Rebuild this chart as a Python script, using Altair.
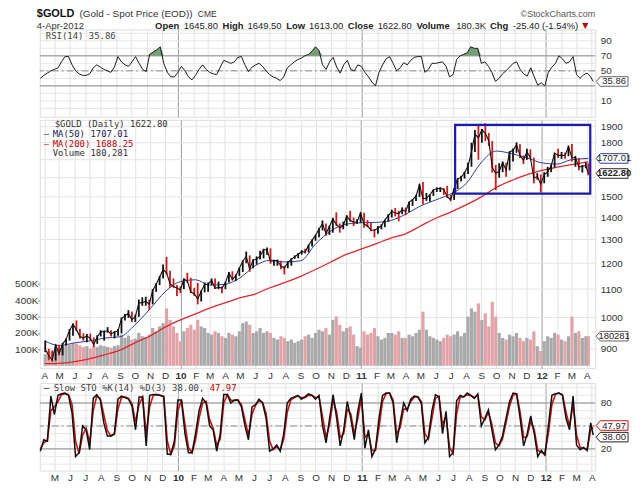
import altair as alt
import pandas as pd

# ---------------- data (weekly samples) ----------------
close = [897, 880, 866, 911, 885, 915, 929, 957, 978, 959, 938, 933, 940, 931, 913, 937, 952, 954, 956, 946,
         952, 955, 996, 1006, 1014, 992, 1003, 1050, 1051, 1056, 1045, 1095, 1118, 1145, 1175, 1162, 1120, 1110, 1104, 1097,
         1138, 1131, 1089, 1083, 1064, 1092, 1117, 1118, 1133, 1103, 1107, 1104, 1125, 1162, 1136, 1151, 1180, 1208, 1228, 1177,
         1213, 1217, 1229, 1256, 1256, 1208, 1210, 1211, 1189, 1181, 1203, 1216, 1227, 1237, 1248, 1246, 1275, 1297, 1318, 1346,
         1371, 1326, 1358, 1393, 1367, 1352, 1362, 1406, 1385, 1378, 1380, 1421,
         1369, 1360, 1342, 1341, 1350, 1361, 1388, 1408, 1429, 1421, 1418, 1437, 1428, 1474, 1486, 1504, 1563, 1491, 1493, 1511,
         1536, 1542, 1543, 1539, 1501, 1486, 1542, 1594, 1601, 1628, 1663, 1745, 1852, 1829, 1880, 1858, 1812, 1656, 1624, 1635,
         1683, 1642, 1745, 1755, 1788, 1725, 1696, 1746, 1711, 1598, 1606, 1566,
         1617, 1631, 1665, 1738, 1725, 1725, 1724, 1776, 1711, 1711, 1659, 1662, 1668, 1622.8]
high = [925, 900, 895, 913, 912, 918, 932, 962, 980, 990, 962, 948, 946, 947, 935, 942, 958, 957, 968, 958,
        955, 962, 1000, 1012, 1025, 1020, 1010, 1062, 1070, 1072, 1062, 1100, 1122, 1150, 1195, 1226, 1170, 1140, 1115, 1110,
        1140, 1162, 1143, 1105, 1123, 1095, 1125, 1125, 1140, 1140, 1128, 1110, 1128, 1165, 1168, 1156, 1182, 1212, 1248, 1232,
        1215, 1228, 1252, 1260, 1265, 1262, 1214, 1215, 1210, 1190, 1208, 1220, 1232, 1242, 1254, 1260, 1278, 1300, 1320, 1350,
        1386, 1372, 1362, 1398, 1424, 1372, 1380, 1410, 1432, 1400, 1392, 1424,
        1422, 1388, 1375, 1346, 1360, 1368, 1390, 1416, 1437, 1445, 1432, 1448, 1447, 1476, 1488, 1510, 1565, 1577, 1520, 1512,
        1538, 1549, 1550, 1545, 1557, 1510, 1545, 1598, 1610, 1632, 1682, 1800, 1878, 1912, 1885, 1921, 1860, 1810, 1670, 1680,
        1690, 1682, 1748, 1765, 1802, 1790, 1725, 1764, 1760, 1712, 1625, 1618,
        1630, 1660, 1672, 1740, 1764, 1745, 1740, 1782, 1792, 1722, 1710, 1670, 1685, 1680]
low = [890, 866, 862, 865, 880, 880, 910, 925, 940, 955, 932, 925, 920, 925, 905, 915, 938, 925, 950, 938,
       932, 940, 948, 990, 998, 985, 985, 1002, 1040, 1040, 1025, 1045, 1090, 1115, 1140, 1155, 1105, 1105, 1075, 1085,
       1100, 1123, 1085, 1075, 1045, 1055, 1088, 1090, 1115, 1100, 1100, 1085, 1100, 1125, 1132, 1130, 1150, 1165, 1200, 1166,
       1180, 1195, 1215, 1220, 1235, 1198, 1190, 1190, 1176, 1156, 1180, 1190, 1218, 1220, 1235, 1240, 1244, 1270, 1294, 1310,
       1340, 1316, 1320, 1330, 1360, 1330, 1345, 1360, 1380, 1360, 1370, 1375,
       1352, 1355, 1336, 1309, 1325, 1345, 1355, 1380, 1400, 1405, 1382, 1415, 1410, 1426, 1455, 1480, 1500, 1462, 1480, 1476,
       1505, 1525, 1525, 1510, 1495, 1478, 1485, 1540, 1580, 1595, 1620, 1660, 1745, 1700, 1800, 1810, 1780, 1627, 1535, 1600,
       1630, 1605, 1640, 1690, 1740, 1710, 1675, 1700, 1705, 1570, 1590, 1523,
       1570, 1605, 1630, 1655, 1710, 1705, 1705, 1720, 1690, 1660, 1640, 1628, 1652, 1613]
volume_k = [70, 90, 85, 100, 110, 120, 125, 130, 140, 135, 125, 115, 120, 105, 120, 115, 125, 120, 115, 110,
            120, 125, 190, 170, 185, 160, 165, 200, 180, 175, 190, 230, 210, 240, 260, 350, 280, 240, 200, 150,
            210, 230, 250, 220, 280, 240, 230, 200, 190, 210, 200, 180, 170, 200, 190, 180, 210, 260, 270, 250,
            200, 210, 230, 200, 210, 200, 170, 160, 180, 170, 150, 160, 140, 150, 160, 180, 190, 170, 200, 220,
            210, 230, 190, 280, 300, 250, 210, 230, 240, 190, 120, 110,
            210, 190, 200, 230, 180, 160, 170, 200, 200, 190, 210, 170, 170, 190, 180, 200, 220, 330, 220, 180,
            170, 160, 150, 170, 190, 180, 190, 210, 180, 200, 300, 350, 330, 380, 280, 320, 240, 390, 300, 200,
            170, 160, 190, 180, 200, 170, 150, 170, 160, 210, 120, 90,
            150, 180, 170, 200, 190, 160, 150, 180, 300, 200, 210, 170, 180, 180.281]
rsi = [40, 44, 47, 50, 52, 54, 62, 69, 69, 58, 50, 46, 44, 44, 46, 54, 58, 55, 52, 50,
       48, 55, 69, 62, 58, 56, 62, 69, 60, 52, 49, 72, 75, 78, 82, 60, 48, 42, 42, 48,
       56, 50, 42, 38, 44, 52, 58, 52, 48, 46, 45, 55, 64, 62, 60, 62, 68, 69, 58, 49,
       55, 58, 60, 56, 50, 45, 42, 40, 37, 42, 54, 58, 62, 65, 67, 70, 72, 76, 82, 77,
       58, 52, 62, 68, 55, 47, 58, 64, 52, 50, 58, 56,
       48, 42, 35, 30, 48, 58, 66, 69, 60, 50, 54, 61, 58, 64, 68, 69, 69, 48, 52, 60,
       60, 61, 62, 56, 42, 45, 65, 70, 72, 74, 82, 80, 80, 60, 62, 56, 48, 36, 40, 46,
       50, 55, 60, 62, 52, 46, 43, 54, 42, 31, 34, 30,
       48, 55, 60, 70, 66, 60, 62, 69, 45, 40, 45, 47, 42, 35.86]
sto_k = [17, 32, 30, 89, 65, 90, 92, 93, 90, 67, 10, 15, 50, 45, 19, 86, 91, 84, 54, 37,
         37, 40, 85, 89, 87, 85, 76, 45, 88, 88, 24, 90, 91, 91, 90, 88, 13, 13, 30, 84,
         84, 40, 15, 15, 40, 70, 86, 80, 50, 45, 17, 40, 91, 91, 80, 84, 84, 75, 50, 32,
         75, 78, 85, 80, 60, 17, 20, 25, 17, 40, 80, 86, 88, 90, 85, 88, 92, 90, 85, 90,
         50, 28, 60, 91, 60, 24, 45, 82, 60, 32, 70, 93,
         21, 45, 10, 20, 60, 90, 93, 93, 80, 28, 55, 80, 70, 85, 89, 88, 80, 28, 35, 70,
         91, 88, 40, 69, 10, 15, 83, 90, 88, 93, 90, 86, 92, 50, 60, 71, 45, 19, 25, 37,
         60, 82, 93, 92, 60, 24, 40, 63, 40, 10, 18, 12,
         50, 90, 92, 93, 90, 60, 45, 89, 25, 19, 22, 18, 54, 38.00]
sto_d = [20, 28, 31, 70, 75, 82, 91, 92, 91, 78, 30, 14, 38, 47, 28, 70, 89, 86, 65, 44,
         37, 39, 72, 87, 88, 86, 79, 55, 78, 88, 40, 75, 90, 91, 90, 89, 30, 13, 24, 70,
         84, 52, 22, 15, 32, 60, 80, 82, 58, 47, 25, 33, 80, 91, 84, 83, 84, 78, 58, 38,
         65, 77, 83, 81, 66, 30, 19, 23, 19, 33, 68, 84, 87, 89, 87, 87, 90, 90, 87, 88,
         62, 35, 52, 84, 68, 35, 40, 72, 66, 40, 60, 87,
         35, 40, 18, 18, 48, 82, 92, 93, 84, 40, 48, 72, 72, 82, 88, 88, 82, 40, 33, 60,
         86, 89, 52, 62, 22, 14, 66, 88, 88, 91, 90, 87, 90, 62, 58, 68, 52, 28, 24, 33,
         54, 76, 90, 92, 68, 35, 36, 56, 45, 18, 16, 13,
         40, 78, 91, 93, 91, 68, 50, 78, 38, 22, 21, 19, 45, 47.97]

ma_dates = ["2009-04-02", "2009-05-01", "2009-06-01", "2009-07-01", "2009-08-01", "2009-09-01", "2009-10-01",
            "2009-11-01", "2009-12-01", "2010-01-01", "2010-02-01", "2010-03-01", "2010-04-01", "2010-05-01",
            "2010-06-01", "2010-07-01", "2010-08-01", "2010-09-01", "2010-10-01", "2010-11-01", "2010-12-01",
            "2011-01-01", "2011-02-01", "2011-03-01", "2011-04-01", "2011-05-01", "2011-06-01", "2011-07-01",
            "2011-08-01", "2011-09-01", "2011-10-01", "2011-11-01", "2011-12-01", "2012-01-01", "2012-02-01",
            "2012-03-01", "2012-04-04"]
ma50 = [924, 910, 918, 924, 933, 937, 975, 1030, 1090, 1128, 1135, 1115, 1118, 1142, 1190, 1212, 1205, 1210,
        1280, 1338, 1368, 1375, 1377, 1385, 1415, 1455, 1485, 1515, 1568, 1685, 1750, 1735, 1712, 1682, 1675,
        1700, 1707.01]
ma200 = [856, 857, 862, 870, 882, 896, 918, 940, 968, 992, 1012, 1032, 1050, 1068, 1082, 1105, 1125, 1148,
         1175, 1205, 1235, 1258, 1282, 1305, 1325, 1360, 1396, 1425, 1460, 1500, 1548, 1585, 1615, 1640, 1658,
         1672, 1688.25]

box_dates = ["2011-07-10", "2012-04-08"]
box_prices = [1517, 1911]

price_ticks = [900, 1000, 1100, 1200, 1300, 1400, 1500, 1800, 1900]
price_grid = [900, 1000, 1100, 1200, 1300, 1400, 1500, 1600, 1700, 1800, 1900]
vol_ticks = [100, 200, 300, 400, 500]
osc_grid = [0, 10, 20, 30, 40, 50, 60, 70, 80, 90, 100]

# ---------------- frames ----------------
dates = [d.strftime("%Y-%m-%d") for d in pd.date_range("2009-04-03", periods=157, freq="7D")] + ["2012-04-04"]
prev = [close[0]] + close[:-1]
df = pd.DataFrame({"date": dates, "close": close, "high": high, "low": low, "vol": volume_k,
                   "rsi": rsi, "k": sto_k, "d": sto_d,
                   "dir": ["down" if c < p else "up" for c, p in zip(close, prev)]})
ma = pd.DataFrame({"date": ma_dates, "ma50": ma50, "ma200": ma200})
boxdf = pd.DataFrame({"x1": [box_dates[0]], "x2": [box_dates[1]], "p1": [box_prices[0]], "p2": [box_prices[1]]})
one = pd.DataFrame({"k": [0]})

W = 559
H_RSI, H_MAIN, H_STO = 88, 250, 88
MONO = "DejaVu Sans Mono"
SANS = "Liberation Sans"
LBL = "#333333"

xscale = alt.Scale(type="utc", nice=False,
                   domain=[alt.DateTime(year=2009, month=4, date=2, utc=True),
                           alt.DateTime(year=2012, month=4, date=8, utc=True)])
YEAR_TEST = "utcmonth(datum.value) == 0"


def x_axis(show):
    return alt.Axis(title=None, labels=show, ticks=False, domain=False, grid=True,
                    gridColor={"condition": {"test": YEAR_TEST, "value": "#9c9c9c"}, "value": "#e2e2e2"},
                    tickCount={"interval": "month", "step": 1},
                    labelExpr="utcmonth(datum.value) == 0 ? utcFormat(datum.value, '%y') : "
                              "substring(utcFormat(datum.value, '%b'), 0, 1)",
                    labelFontWeight={"condition": {"test": YEAR_TEST, "value": "bold"}, "value": "normal"},
                    labelFont=SANS, labelFontSize=10, labelColor=LBL, labelPadding=2,
                    labelOverlap=False, labelFlush=False, labelBound=False)


def XE(field, show):
    return alt.X(field, type="temporal", scale=xscale, axis=x_axis(show))


def txt(s, x, y, size=9, weight="normal", color="#222", font=MONO, align="left"):
    return alt.Chart(one).mark_text(align=align, baseline="middle", font=font, fontSize=size,
                                    fontWeight=weight, color=color).encode(
        x=alt.value(x), y=alt.value(y), text=alt.value(s))


BOX = "M-1,0L-0.75,-0.3L1,-0.3L1,0.3L-0.75,0.3Z"


def value_box(yenc, value_field, value, label, stroke, tcolor="#222", bold=False, yoff=0):
    d = pd.DataFrame({value_field: [value]})
    pt = alt.Chart(d).mark_point(shape=BOX, size=1024, filled=True, fill="white", stroke=stroke,
                                 strokeWidth=1, opacity=1, yOffset=yoff).encode(x=alt.value(W + 17), y=yenc)
    tx = alt.Chart(d).mark_text(align="center", baseline="middle", font=SANS, fontSize=9.5,
                                fontWeight="bold" if bold else "normal", color=tcolor, yOffset=yoff).encode(
        x=alt.value(W + 19), y=yenc, text=alt.value(label))
    return [pt, tx]


# ---------------- RSI panel ----------------
rsi_scale = alt.Scale(domain=[-11.2, 105.2], nice=False, zero=False)
rsi_axis = alt.Axis(orient="right", values=[10, 50, 70, 90], title=None, grid=False, ticks=False, domain=False,
                    labelFont=SANS, labelFontSize=10, labelColor=LBL, labelPadding=5)


def RY(f):
    return alt.Y(f, type="quantitative", scale=rsi_scale, axis=rsi_axis)


gdf = pd.DataFrame({"g": osc_grid})
ROW1, ROW2 = -15, -3.5
rsi_layers = [
    alt.Chart(gdf).mark_rule(color="#e6e6e6").encode(y=RY("g")),
    alt.Chart(pd.DataFrame({"g": [30, 70]})).mark_rule(color="#8a8a8a").encode(y=RY("g")),
    alt.Chart(pd.DataFrame({"g": [50]})).mark_rule(color="#8a8a8a", strokeDash=[7, 3, 2, 3]).encode(y=RY("g")),
    alt.Chart(df).transform_calculate(top="max(datum.rsi, 70)", base="70").mark_area(
        color="#6f9a6f", opacity=0.95).encode(x=XE("date", False), y=RY("top"), y2="base:Q"),
    alt.Chart(df).mark_line(color="#1a1a1a", strokeWidth=1).encode(x=XE("date", False), y=RY("rsi")),
    txt("RSI(14) 35.86", 6, 6.5, color="#444"),
    # header
    txt("$GOLD", -3, ROW1, size=11, weight="bold", color="#111", font=SANS),
    txt("(Gold - Spot Price (EOD))", 40, ROW1, size=10, color="#333", font=SANS),
    txt("CME", 159, ROW1, size=8.5, color="#333", font=SANS),
    txt("©StockCharts.com", W, ROW1 - 0.5, size=9, color="#555", font=SANS, align="right"),
    txt("4-Apr-2012", -3, ROW2, size=9.5, color="#333", font=SANS),
]
segs = [("Open", 116, True), ("1645.80", 145, False), ("High", 184, True), ("1649.50", 209, False),
        ("Low", 248, True), ("1613.00", 271, False), ("Close", 310, True), ("1622.80", 340, False),
        ("Volume", 379, True), ("180.3K", 419, False), ("Chg", 453, True), ("-25.40 (-1.54%)", 476, False)]
for s, x, b in segs:
    rsi_layers.append(txt(s, x, ROW2, size=9.5, weight="bold" if b else "normal", color="#222", font=SANS))
rsi_layers.append(txt("▼", 546, ROW2, size=8, color="#c00000", font="DejaVu Sans"))
rsi_layers += value_box(RY("v"), "v", 35.86, "35.86", "#666666")
rsi_chart = alt.layer(*rsi_layers).properties(width=W, height=H_RSI)

# ---------------- main panel ----------------
price_scale = alt.Scale(type="log", domain=[843, 1944], nice=False)
price_axis = alt.Axis(orient="right", values=price_ticks, title=None, grid=False, ticks=False, domain=False,
                      labelFont=SANS, labelFontSize=10, labelColor=LBL, labelPadding=5, format="d")


def PY(f):
    return alt.Y(f, type="quantitative", scale=price_scale, axis=price_axis)


vol_scale = alt.Scale(domain=[-15, 1500], nice=False, zero=False)
vol_axis = alt.Axis(orient="left", values=vol_ticks, labelExpr="datum.value + 'K'", title=None, grid=False,
                    domain=False, ticks=True, tickSize=2, tickColor="#777", labelPadding=0,
                    labelFont=SANS, labelFontSize=10, labelColor=LBL)


def VY(f):
    return alt.Y(f, type="quantitative", scale=vol_scale, axis=vol_axis)


down = "datum.dir == 'down'"
grid_group = alt.Chart(pd.DataFrame({"g": price_grid})).mark_rule(color="#e4e4e4").encode(
    y=alt.Y("g:Q", scale=price_scale, axis=None))

vol_group = alt.layer(
    alt.Chart(df).mark_bar(width=3.2).encode(
        x=XE("date", True), y=VY("vol"), y2=alt.datum(0),
        color=alt.condition(down, alt.value("#e2a3a8"), alt.value("#a9a9a9"))),
    *value_box(VY("v"), "v", 180.281, "180281", "#666666"),
)

price_group = alt.layer(
    alt.Chart(ma).mark_line(color="#e0282a", strokeWidth=1.3, interpolate="monotone").encode(
        x=XE("date", True), y=PY("ma200")),
    alt.Chart(ma).mark_line(color="#2e3c9e", strokeWidth=1, interpolate="monotone").encode(
        x=XE("date", True), y=PY("ma50")),
    alt.Chart(df).mark_rule(strokeWidth=1.8).encode(
        x=XE("date", True), y=PY("low"), y2="high:Q",
        color=alt.condition(down, alt.value("#d01818"), alt.value("#111111"))),
    alt.Chart(df).mark_line(color="#111111", strokeWidth=1.1).encode(x=XE("date", True), y=PY("close")),
    alt.Chart(boxdf).mark_rect(fillOpacity=0, stroke="#1a1aa6", strokeWidth=2.2).encode(
        x=XE("x1", True), x2="x2:T", y=PY("p1"), y2="p2:Q"),
    txt("$GOLD (Daily) 1622.80", 15, 4, color="#333"),
    txt("—", 4, 14, color="#2e3c9e"),
    txt("MA(50) 1707.01", 13, 14, color="#1c1c5a"),
    txt("—", 4, 24, color="#e0282a"),
    txt("MA(200) 1688.25", 13, 24, color="#c00000"),
    txt("Volume 180,281", 13, 33, color="#333"),
    *value_box(PY("v"), "v", 1707.01, "1707.01", "#2e3c9e"),
    *value_box(PY("v"), "v", 1622.80, "1622.80", "#222222", bold=True),
)

main_chart = alt.layer(grid_group, vol_group, price_group).resolve_scale(y="independent").properties(
    width=W, height=H_MAIN)

# ---------------- Slow STO panel ----------------
sto_scale = alt.Scale(domain=[-8.3, 106], nice=False, zero=False)
sto_axis = alt.Axis(orient="right", values=[20, 80], title=None, grid=False, ticks=False, domain=False,
                    labelFont=SANS, labelFontSize=10, labelColor=LBL, labelPadding=5)


def SY(f):
    return alt.Y(f, type="quantitative", scale=sto_scale, axis=sto_axis)


sto_layers = [
    alt.Chart(gdf).mark_rule(color="#e6e6e6").encode(y=SY("g")),
    alt.Chart(pd.DataFrame({"g": [20, 80]})).mark_rule(color="#8a8a8a").encode(y=SY("g")),
    alt.Chart(pd.DataFrame({"g": [50]})).mark_rule(color="#8a8a8a", strokeDash=[7, 3, 2, 3]).encode(y=SY("g")),
    alt.Chart(df).mark_line(color="#d01010", strokeWidth=1.6).encode(x=XE("date", True), y=SY("d")),
    alt.Chart(df).mark_line(color="#111111", strokeWidth=1.5).encode(x=XE("date", True), y=SY("k")),
    txt("—", 4, 5, color="#111"),
    txt("Slow STO %K(14) %D(3) 38.00,", 14, 5, color="#444"),
    txt("47.97", 171, 5, color="#c00000"),
]
sto_layers += value_box(SY("v"), "v", 47.97, "47.97", "#d01010", yoff=-2)
sto_layers += value_box(SY("v"), "v", 38.00, "38.00", "#222222", yoff=2)
sto_chart = alt.layer(*sto_layers).properties(width=W, height=H_STO)

chart = alt.vconcat(rsi_chart, main_chart, sto_chart, spacing=1).properties(
    padding={"left": 6, "top": -2, "right": 0, "bottom": 0}
).configure_view(stroke="#9d9d9d", strokeWidth=1).configure(background="white")

chart.save("out.html", embed_options={"renderer": "svg", "actions": False})
